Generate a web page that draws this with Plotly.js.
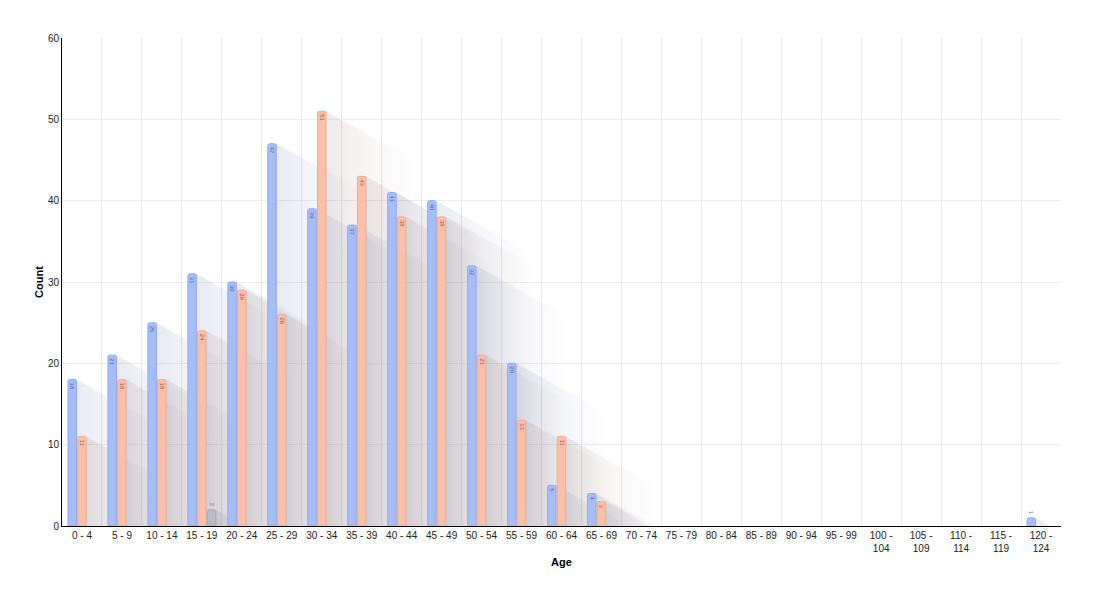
<!DOCTYPE html>
<html><head><meta charset="utf-8">
<script src="https://cdn.plot.ly/plotly-3.0.1.min.js"></script>
<style>html,body{margin:0;padding:0;background:#fff}#chart{width:1111px;height:601px}</style>
</head><body><div id="chart"></div>
<script>
const categories = ["0 - 4","5 - 9","10 - 14","15 - 19","20 - 24","25 - 29","30 - 34","35 - 39","40 - 44","45 - 49","50 - 54","55 - 59","60 - 64","65 - 69","70 - 74","75 - 79","80 - 84","85 - 89","90 - 94","95 - 99","100 - 104","105 - 109","110 - 114","115 - 119","120 - 124"];
const seriesBlue   = [18,21,25,31,30,47,39,37,41,40,32,20,5,4,null,null,null,null,null,null,null,null,null,null,1];
const seriesSalmon = [11,18,18,24,29,26,51,43,38,38,21,13,11,3,null,null,null,null,null,null,null,null,null,null,null];
const seriesGray   = [null,null,null,2,null,null,null,null,null,null,null,null,null,null,null,null,null,null,null,null,null,null,null,null,null];
const yTicks = [0,10,20,30,40,50,60];

const FONT = '"Liberation Sans", Arial, sans-serif';
const idx = categories.map((c,i)=>i);
const tickText = categories.map(c => c.length > 7 ? c.replace(' - ', ' -<br>') : c);

const BARGAP = 0.27, GROUPGAP = 0.12, NS = 3;
const slot = (1 - BARGAP) / NS, bw = slot * (1 - GROUPGAP);
const SDX = 2.3, SDY = 6.3;   // shadow direction (category units, count units)

const series = [
  {name:'Male', y:seriesBlue, fill:'#a6bdf8', line:'#93abf0', text:'#56658f', sh:'95,110,165'},
  {name:'Female', y:seriesSalmon, fill:'#fcc0a8', line:'#f0aa90', text:'#96584a', sh:'140,110,100'},
  {name:'Unknown', y:seriesGray, fill:'#babdc7', line:'#a7aab5', text:'#666', sh:'100,100,115'}
];

const traces = [];
// decorative long shadows (base subplot, under the bars)
series.forEach((s, k) => {
  s.y.forEach((v, i) => {
    if (v == null) return;
    const xc = i + (k - 1) * slot;
    const xl = xc - bw/2, xr = xc + bw/2;
    traces.push({
      type:'scatter', mode:'lines', xaxis:'x', yaxis:'y', hoverinfo:'skip', showlegend:false,
      x:[xl, xr, xr+SDX, xr+SDX, xl+SDX, xl, xl],
      y:[v, v, v-SDY, -SDY, -SDY, 0, v],
      line:{width:0}, fill:'toself',
      fillgradient:{type:'horizontal', start:xr, stop:xr+SDX,
        colorscale:[[0,'rgba('+s.sh+',0.14)'],[0.4,'rgba('+s.sh+',0.07)'],[1,'rgba('+s.sh+',0)']]}
    });
  });
});
// bars (overlay subplot so they sit above the shadows)
series.forEach((s) => {
  traces.push({
    type:'bar', name:s.name, x:idx, y:s.y, xaxis:'x2', yaxis:'y',
    marker:{color:s.fill, line:{color:s.line, width:1}, cornerradius:2},
    texttemplate:'%{y}', textangle:90,
    textposition:s.y.map(v => (v != null && v >= 3) ? 'inside' : 'outside'),
    insidetextanchor:'end', constraintext:'none', cliponaxis:false,
    textfont:{size:6, color:s.text, family:FONT},
    outsidetextfont:{size:6, color:'#777', family:FONT}
  });
});

const layout = {
  width:1111, height:601,
  margin:{l:62, r:50, t:38, b:75},
  paper_bgcolor:'#fff', plot_bgcolor:'#fff',
  font:{family:FONT, size:10, color:'#222'},
  showlegend:false,
  barmode:'group', bargap:BARGAP, bargroupgap:GROUPGAP,
  xaxis:{type:'linear', range:[-0.5, 24.5], tickvals:idx, ticktext:tickText,
    showgrid:false, zeroline:false, showline:true, linecolor:'#000', linewidth:1,
    ticks:'', tickfont:{size:10, color:'#222'}, fixedrange:true,
    title:{text:'Age', font:{size:11, color:'#000', weight:'bold'}, standoff:5}},
  xaxis2:{type:'linear', overlaying:'x', anchor:'y', range:[-0.5, 24.5],
    tickvals:idx.map(i => i + 0.5), showticklabels:false, ticks:'',
    showgrid:true, gridcolor:'#e8e8e8', gridwidth:1, zeroline:false, showline:false},
  yaxis:{range:[0,60], tickvals:yTicks, showgrid:true, gridcolor:'#ececec', gridwidth:1,
    zeroline:false, showline:true, linecolor:'#000', linewidth:1, ticks:'',
    tickfont:{size:10, color:'#222'},
    title:{text:'Count', font:{size:11, color:'#000', weight:'bold'}, standoff:2}}
};

Plotly.newPlot('chart', traces, layout, {displayModeBar:false, staticPlot:true});
</script>
</body></html>
